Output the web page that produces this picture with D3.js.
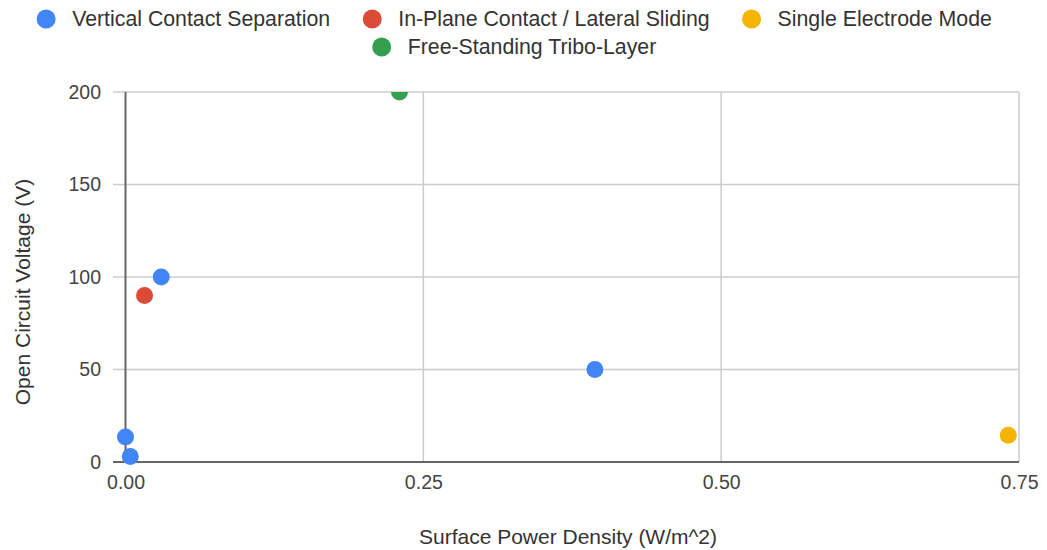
<!DOCTYPE html>
<html>
<head>
<meta charset="utf-8">
<script src="https://cdn.jsdelivr.net/npm/d3@7"></script>
<style>
  html, body { margin: 0; padding: 0; background: #fff; }
  svg { display: block; font-family: "Liberation Sans", Arial, sans-serif; }
</style>
</head>
<body>
<svg id="chart" width="1047" height="550"></svg>
<script>
// Triboelectric nanogenerator modes: surface power density vs open circuit voltage
const seriesNames = [
  "Vertical Contact Separation",
  "In-Plane Contact / Lateral Sliding",
  "Single Electrode Mode",
  "Free-Standing Tribo-Layer"
];
const seriesColors = ["#4285f4", "#dc4a38", "#f4b400", "#34a04f"];

const verticalPower = [0.0, 0.004, 0.03, 0.394];
const verticalVoltage = [13.5, 3, 100, 50];
const lateralPower = [0.016];
const lateralVoltage = [90];
const singlePower = [0.741];
const singleVoltage = [14.5];
const freePower = [0.23];
const freeVoltage = [200];

const xTicks = [0, 0.25, 0.5, 0.75];
const yTicks = [0, 50, 100, 150, 200];
const xTitle = "Surface Power Density (W/m^2)";
const yTitle = "Open Circuit Voltage (V)";

const series = [
  { name: seriesNames[0], color: seriesColors[0], xs: verticalPower, ys: verticalVoltage },
  { name: seriesNames[1], color: seriesColors[1], xs: lateralPower, ys: lateralVoltage },
  { name: seriesNames[2], color: seriesColors[2], xs: singlePower, ys: singleVoltage },
  { name: seriesNames[3], color: seriesColors[3], xs: freePower, ys: freeVoltage }
];

const svg = d3.select("#chart");
const area = { left: 125.5, right: 1019, top: 92, bottom: 462 };

const x = d3.scaleLinear().domain([0, 0.75]).range([area.left, area.right]);
const y = d3.scaleLinear().domain([0, 200]).range([area.bottom, area.top]);

// gridlines
const grid = svg.append("g");
grid.selectAll("line.h").data(yTicks.filter(d => d !== 0)).join("line")
  .attr("x1", 113).attr("x2", area.right)
  .attr("y1", d => y(d)).attr("y2", d => y(d))
  .attr("stroke", "#cccccc").attr("stroke-width", 1.5);
grid.selectAll("line.v").data(xTicks.filter(d => d !== 0)).join("line")
  .attr("x1", d => x(d)).attr("x2", d => x(d))
  .attr("y1", area.top).attr("y2", area.bottom)
  .attr("stroke", "#cccccc").attr("stroke-width", 1.5);

// axis lines (zero lines)
svg.append("line")
  .attr("x1", 113).attr("x2", area.right)
  .attr("y1", y(0)).attr("y2", y(0))
  .attr("stroke", "#666").attr("stroke-width", 2);
svg.append("line")
  .attr("x1", x(0)).attr("x2", x(0))
  .attr("y1", area.top).attr("y2", area.bottom)
  .attr("stroke", "#666").attr("stroke-width", 2);

// tick labels
const yAxis = d3.axisLeft(y).tickValues(yTicks).tickSize(0).tickPadding(0).tickFormat(d3.format("d"));
svg.append("g").attr("transform", `translate(101,0)`).call(yAxis)
  .call(g => g.select(".domain").remove())
  .selectAll("text")
  .attr("font-size", 19.5).attr("fill", "#444")
  .attr("font-family", "Liberation Sans, Arial, sans-serif");

const xAxis = d3.axisBottom(x).tickValues(xTicks).tickSize(0).tickPadding(0).tickFormat(d3.format(".2f"));
svg.append("g").attr("transform", `translate(0,475)`).call(xAxis)
  .call(g => g.select(".domain").remove())
  .selectAll("text")
  .attr("font-size", 19.5).attr("fill", "#444")
  .attr("font-family", "Liberation Sans, Arial, sans-serif");

// axis titles
svg.append("text")
  .attr("x", 568).attr("y", 544)
  .attr("text-anchor", "middle")
  .attr("font-size", 21).attr("fill", "#333")
  .text(xTitle);
svg.append("text")
  .attr("transform", "translate(30,292) rotate(-90)")
  .attr("text-anchor", "middle")
  .attr("font-size", 21).attr("fill", "#333")
  .text(yTitle);

// points, clipped at the top of the plot area
svg.append("defs").append("clipPath").attr("id", "plotClip")
  .append("rect").attr("x", 100).attr("y", area.top)
  .attr("width", 940).attr("height", 400);

const pts = svg.append("g").attr("clip-path", "url(#plotClip)");
series.forEach(s => {
  pts.selectAll(null).data(s.xs.map((v, i) => [v, s.ys[i]])).join("circle")
    .attr("cx", d => x(d[0])).attr("cy", d => y(d[1]))
    .attr("r", 8.5).attr("fill", s.color);
});

// legend: rows centered, wrapping after three entries
const legendFont = 21.3;
const rows = [[0, 1, 2], [3]];
const rowY = [19, 47];
const legendCenter = 515;
const gap = 42;
const measure = svg.append("text").attr("font-size", legendFont).attr("visibility", "hidden");
function textWidth(t) { measure.text(t); return measure.node().getComputedTextLength(); }

rows.forEach((row, ri) => {
  const widths = row.map(i => 26 + textWidth(series[i].name));
  const total = d3.sum(widths) + gap * (row.length - 1) + 10;
  let cx = legendCenter - total / 2 + 9;
  row.forEach((i, k) => {
    const g = svg.append("g");
    g.append("circle").attr("cx", cx).attr("cy", rowY[ri]).attr("r", 9.5).attr("fill", series[i].color);
    g.append("text").attr("x", cx + 26).attr("y", rowY[ri]).attr("dy", "0.35em")
      .attr("font-size", legendFont).attr("fill", "#333").text(series[i].name);
    cx += widths[k] + gap;
  });
});
measure.remove();
</script>
</body>
</html>
